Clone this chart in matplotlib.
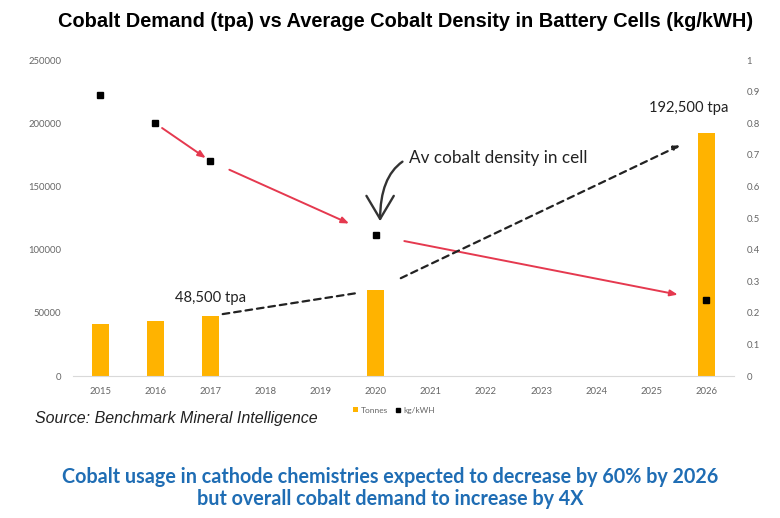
import matplotlib.pyplot as plt

# data
years = ['2015', '2016', '2017', '2018', '2019', '2020', '2021', '2022', '2023', '2024', '2025', '2026']
tonnes = [41000, 43500, 47500, None, None, 68000, None, None, None, None, None, 192500]
density = [0.89, 0.80, 0.68, None, None, 0.445, None, None, None, None, None, 0.24]
left_ticks = [0, 50000, 100000, 150000, 200000, 250000]
right_ticks = [0, 0.1, 0.2, 0.3, 0.4, 0.5, 0.6, 0.7, 0.8, 0.9, 1]

bar_color = '#FFB300'
red = '#E5394F'
tick_grey = '#666666'

fig = plt.figure(figsize=(7.8, 5.18), dpi=100)
ax = fig.add_axes([0.093, 0.274, 0.848, 0.61])
ax2 = ax.twinx()

x = list(range(len(years)))
bx = [i for i, v in zip(x, tonnes) if v is not None]
bv = [v for v in tonnes if v is not None]
ax.bar(bx, bv, width=0.31, color=bar_color, label='Tonnes', zorder=2)

dx = [i for i, v in zip(x, density) if v is not None]
dv = [v for v in density if v is not None]
ax2.plot(dx, dv, 's', color='black', ms=4.2, label='kg/kWH', zorder=4)

ax.set_xlim(-0.5, len(years) - 0.5)
ax.set_ylim(0, 250000)
ax2.set_ylim(0, 1)
ax.set_xticks(x)
ax.set_xticklabels(years)
ax.set_yticks(left_ticks)
ax.set_yticklabels([str(t) for t in left_ticks])
ax2.set_yticks(right_ticks)
ax2.set_yticklabels(['0', '0.1', '0.2', '0.3', '0.4', '0.5', '0.6', '0.7', '0.8', '0.9', '1'])

for a in (ax, ax2):
    for s in a.spines.values():
        s.set_visible(False)
    a.tick_params(length=0, labelsize=6.8, labelcolor=tick_grey, pad=6)
ax.spines['bottom'].set_visible(True)
ax.spines['bottom'].set_color('#d9d9d9')
ax.spines['bottom'].set_linewidth(0.8)
ax.tick_params(axis='x', pad=8)
ax.tick_params(axis='y', pad=8)
ax2.tick_params(axis='y', pad=9)
for lab in ax.get_xticklabels() + ax.get_yticklabels() + ax2.get_yticklabels():
    lab.set_family('Lato')

# arrows between points, in right axis units (bar tops scaled to 0-1)
def arrow(p0, p1, color, ls, sa, sb):
    ax2.annotate('', xy=p1, xytext=p0,
                 arrowprops=dict(arrowstyle='-|>,head_length=0.45,head_width=0.18', color=color,
                                 lw=1.4, ls=ls, shrinkA=sa, shrinkB=sb), zorder=3)

pts = {i: (i, v) for i, v in zip(dx, dv)}
arrow(pts[1], pts[2], red, '-', 6, 4)
arrow(pts[2], pts[5], red, '-', 15, 21)
arrow(pts[5], pts[11], red, '-', 21, 21)
tops = {i: (i, v / 250000) for i, v in zip(bx, bv)}
ax2.annotate('', xy=tops[5], xytext=tops[2],
             arrowprops=dict(arrowstyle='-', color='#222222', lw=1.6, ls=(0, (3, 2.2)),
                             shrinkA=9, shrinkB=13), zorder=3)
ax2.annotate('', xy=tops[11], xytext=tops[5],
             arrowprops=dict(arrowstyle='-|>,head_length=0.35,head_width=0.15', color='#222222',
                             lw=1.6, ls=(0, (3, 2.2)), shrinkA=20, shrinkB=21), zorder=3)

# curved callout to the 2020 density point
ax2.annotate('Av cobalt density in cell', xy=(pts[5][0] + 0.08, pts[5][1] + 0.045),
             xytext=(5.6, 0.69), fontsize=12.3, family='Lato', color='#222222',
             va='center', ha='left',
             arrowprops=dict(arrowstyle='->,head_length=1.35,head_width=0.8', color='#333333',
                             lw=1.7, connectionstyle='angle3,angleA=205,angleB=90',
                             relpos=(0, 0.5), shrinkA=3, shrinkB=0))

ax.text(2, tonnes[2] + 9000, '48,500 tpa', ha='center', va='bottom', fontsize=10.6,
        family='Lato', color='#222222')
ax.text(11.4, tonnes[11] + 14000, '192,500 tpa', ha='right', va='bottom', fontsize=10.6,
        family='Lato', color='#222222')

fig.legend(handles=ax.get_legend_handles_labels()[0] + ax2.get_legend_handles_labels()[0],
           loc='center', bbox_to_anchor=(0.505, 0.208), ncol=2, frameon=False,
           prop={'family': 'Lato', 'size': 6}, labelcolor=tick_grey,
           handlelength=0.6, handleheight=0.6, handletextpad=0.3, columnspacing=0.9,
           markerscale=0.8)

fig.text(0.52, 0.958, 'Cobalt Demand (tpa) vs Average Cobalt Density in Battery Cells (kg/kWH)',
         ha='center', va='center', fontsize=14.4, fontweight='bold', family='Liberation Sans')
fig.text(0.045, 0.192, 'Source: Benchmark Mineral Intelligence', ha='left', va='center',
         fontsize=11.5, style='italic', family='Liberation Sans', color='#222222')
fig.text(0.5, 0.079, 'Cobalt usage in cathode chemistries expected to decrease by 60% by 2026',
         ha='center', va='center', fontsize=14.2, fontweight='bold', family='Lato', color='#1F6DB4')
fig.text(0.5, 0.036, 'but overall cobalt demand to increase by 4X',
         ha='center', va='center', fontsize=14.2, fontweight='bold', family='Lato', color='#1F6DB4')

fig.savefig('out.png', dpi=100)
